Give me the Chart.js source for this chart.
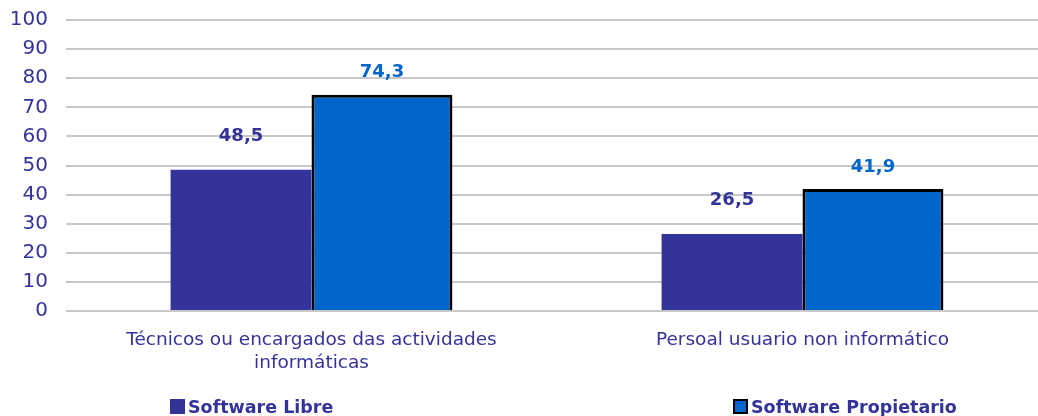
<!DOCTYPE html>
<html>
<head>
<meta charset="utf-8">
<script src="https://cdn.jsdelivr.net/npm/chart.js@4.4.0/dist/chart.umd.min.js"></script>
<style>
    html, body { margin: 0; padding: 0; background: #fff; overflow: hidden; }
    #wrap { position: relative; width: 1038px; height: 416px; overflow: hidden; }
    #legend { position: absolute; left: 0; top: 397px; width: 1038px; height: 20px; }
    .item { position: absolute; top: 0; font: bold 17.5px "DejaVu Sans", Verdana, sans-serif; color: #333399; white-space: nowrap; line-height: 20px; }
    .item span.box { display: inline-block; width: 15px; height: 15px; margin-right: 3px; vertical-align: -1px; box-sizing: border-box; }
</style>
</head>
<body>
<div id="wrap">
    <canvas id="chart" width="1050" height="416"></canvas>
    <div id="legend"></div>
</div>
<script>
const categories = [
    ['Técnicos ou encargados das actividades', 'informáticas'],
    'Persoal usuario non informático'
];
const seriesNames = ['Software Libre', 'Software Propietario'];
const softwareLibre = [48.5, 26.5];
const softwarePropietario = [74.3, 41.9];
const yTicks = [0, 10, 20, 30, 40, 50, 60, 70, 80, 90, 100];

const FONT = '"DejaVu Sans", Verdana, sans-serif';
const labelColors = ['#333399', '#0066CC'];
const labelOffsets = [34, 22];

// etiquetas de valor encima de cada barra
const valueLabels = {
    id: 'valueLabels',
    afterDatasetsDraw(chart) {
        const ctx = chart.ctx;
        ctx.save();
        ctx.font = 'bold 18px ' + FONT;
        ctx.textAlign = 'center';
        ctx.textBaseline = 'middle';
        chart.data.datasets.forEach((ds, i) => {
            const meta = chart.getDatasetMeta(i);
            ctx.fillStyle = labelColors[i];
            meta.data.forEach((bar, j) => {
                const txt = ds.data[j].toFixed(1).replace('.', ',');
                ctx.fillText(txt, bar.x, bar.y - labelOffsets[i]);
            });
        });
        ctx.restore();
    }
};

const chart = new Chart(document.getElementById('chart'), {
    type: 'bar',
    data: {
        labels: categories,
        datasets: [{
            label: seriesNames[0],
            data: softwareLibre,
            backgroundColor: '#333399',
            borderWidth: 0,
            barPercentage: 1,
            categoryPercentage: 0.574
        }, {
            label: seriesNames[1],
            data: softwarePropietario,
            backgroundColor: '#0066CC',
            borderColor: '#000000',
            borderWidth: 3,
            barPercentage: 1,
            categoryPercentage: 0.574
        }]
    },
    options: {
        responsive: false,
        animation: false,
        layout: {
            padding: { top: 20, left: 10, right: 2, bottom: 31 }
        },
        plugins: {
            legend: { display: false },
            tooltip: { enabled: false }
        },
        scales: {
            x: {
                grid: { display: false },
                border: { display: false },
                ticks: {
                    color: '#333399',
                    padding: 10,
                    maxRotation: 0,
                    font: { family: FONT, size: 18.5, lineHeight: 1.243 }
                }
            },
            y: {
                min: 0,
                max: 100,
                afterFit: s => {
                    s.width = 56;
                    s.paddingTop = 0;
                    s.paddingBottom = 0;
                },
                afterBuildTicks: s => { s.ticks = yTicks.map(v => ({ value: v })); },
                grid: { color: '#C8C8C8', lineWidth: 2, drawTicks: false },
                border: { display: false },
                ticks: {
                    color: '#333399',
                    padding: 18,
                    autoSkip: false,
                    font: { family: FONT, size: 20 }
                }
            }
        }
    },
    plugins: [valueLabels]
});

// leyenda en HTML
const legendPos = [170, 733];
const legend = document.getElementById('legend');
chart.data.datasets.forEach((ds, i) => {
    const item = document.createElement('div');
    item.className = 'item';
    item.style.left = legendPos[i] + 'px';
    const box = document.createElement('span');
    box.className = 'box';
    box.style.background = ds.backgroundColor;
    if (ds.borderWidth) box.style.border = '2px solid ' + ds.borderColor;
    item.appendChild(box);
    item.appendChild(document.createTextNode(ds.label));
    legend.appendChild(item);
});
</script>
</body>
</html>
